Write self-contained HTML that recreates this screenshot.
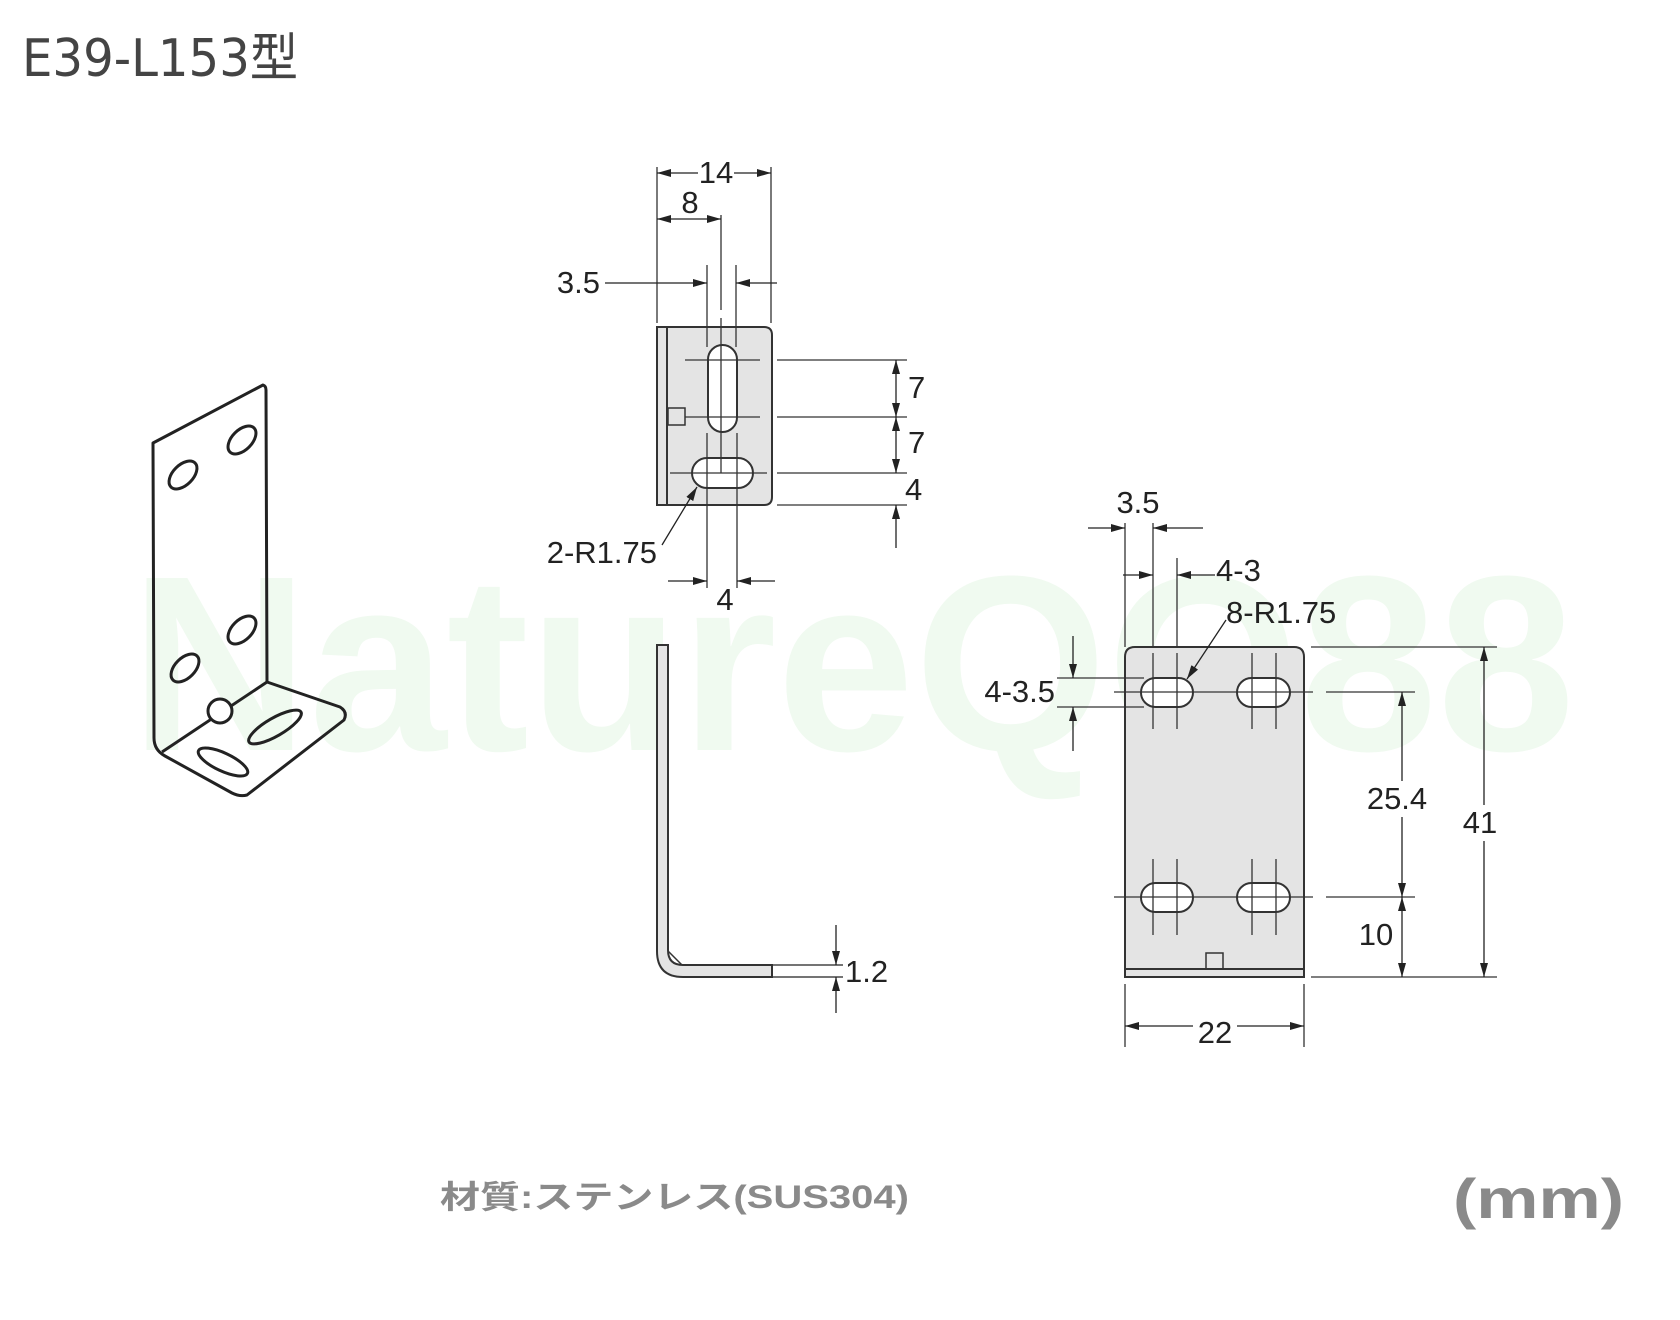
<!DOCTYPE html>
<html><head><meta charset="utf-8"><style>html,body{margin:0;padding:0;background:#fff}svg{display:block}</style></head>
<body>
<svg width="1680" height="1320" viewBox="0 0 1680 1320" xmlns="http://www.w3.org/2000/svg">
<defs>
<marker id="a" viewBox="0 0 14 8" refX="14" refY="4" markerWidth="14" markerHeight="8" markerUnits="userSpaceOnUse" orient="auto-start-reverse"><path d="M0,0 L14,4 L0,8z" fill="#222"/></marker>
</defs>
<rect width="1680" height="1320" fill="#fff"/>
<text x="130" y="750" font-family="Liberation Sans, sans-serif" font-size="250" font-weight="bold" fill="#f0faf0" textLength="1445" lengthAdjust="spacingAndGlyphs">NatureQQ88</text>
<text x="22" y="76" font-family="DejaVu Sans, 'Noto Sans CJK JP', sans-serif" font-size="52" fill="#444" textLength="276" lengthAdjust="spacingAndGlyphs">E39-L153型</text>

<!-- iso -->
<g fill="none" stroke="#222" stroke-width="3" stroke-linejoin="round">
<path d="M153,443 L263,385 Q266,386 266,390 L267,682 L340,707 Q348,712 344,720 L247,795 Q240,797 232,793 L165,756 Q154,750 154,738 Z"/>
<path d="M162,752 L267,682"/>
<ellipse cx="183" cy="475" rx="17" ry="10" transform="rotate(-45 183 475)"/>
<ellipse cx="242" cy="440" rx="17" ry="10" transform="rotate(-45 242 440)"/>
<ellipse cx="185" cy="668" rx="17" ry="10" transform="rotate(-45 185 668)"/>
<ellipse cx="242" cy="630" rx="17" ry="10" transform="rotate(-45 242 630)"/>
<ellipse cx="223" cy="762" rx="27" ry="9" transform="rotate(25 223 762)"/>
<ellipse cx="275" cy="727" rx="30" ry="9" transform="rotate(-30 275 727)"/>
<circle cx="220" cy="711" r="12" fill="#fff"/>
</g>

<g font-family="Liberation Sans, sans-serif" font-size="31" fill="#222">
<!-- middle top view -->
<path d="M657,327 H764 Q772,327 772,335 V497 Q772,505 764,505 H657 Z" fill="#e4e4e4" stroke="#333" stroke-width="2"/>
<line x1="667" y1="327" x2="667" y2="505" stroke="#333" stroke-width="2"/>
<rect x="708" y="345" width="29" height="87" rx="14.5" fill="#fff" stroke="#333" stroke-width="2"/>
<rect x="692" y="458" width="61" height="30" rx="15" fill="#fff" stroke="#333" stroke-width="2"/>
<rect x="668" y="408" width="17" height="17" fill="none" stroke="#333" stroke-width="1.5"/>
<g stroke="#333" stroke-width="1.3" fill="none">
<line x1="685" y1="360" x2="760" y2="360"/><line x1="685" y1="417" x2="760" y2="417"/><line x1="670" y1="473" x2="767" y2="473"/>
<line x1="721" y1="215" x2="721" y2="310"/><line x1="721" y1="318" x2="721" y2="473"/>
<line x1="707" y1="265" x2="707" y2="347"/><line x1="736" y1="265" x2="736" y2="347"/>
<line x1="707" y1="433" x2="707" y2="588"/><line x1="737" y1="433" x2="737" y2="588"/>
<line x1="777" y1="360" x2="907" y2="360"/><line x1="777" y1="417" x2="907" y2="417"/><line x1="777" y1="473" x2="907" y2="473"/><line x1="777" y1="505" x2="907" y2="505"/>
<line x1="657" y1="167" x2="657" y2="323"/><line x1="771" y1="167" x2="771" y2="323"/>
</g>
<g stroke="#222" stroke-width="1.3" fill="none">
<line x1="896" y1="360" x2="896" y2="417" marker-start="url(#a)" marker-end="url(#a)"/>
<line x1="896" y1="417" x2="896" y2="473" marker-start="url(#a)" marker-end="url(#a)"/>
<line x1="896" y1="548" x2="896" y2="505" marker-end="url(#a)"/>
<line x1="657" y1="173" x2="771" y2="173" marker-start="url(#a)" marker-end="url(#a)"/>
<line x1="657" y1="219" x2="721" y2="219" marker-start="url(#a)" marker-end="url(#a)"/>
<line x1="605" y1="283" x2="707" y2="283" marker-end="url(#a)"/>
<line x1="777" y1="283" x2="736" y2="283" marker-end="url(#a)"/>
<line x1="668" y1="581" x2="707" y2="581" marker-end="url(#a)"/>
<line x1="775" y1="581" x2="737" y2="581" marker-end="url(#a)"/>
<line x1="662" y1="545" x2="697" y2="487" marker-end="url(#a)"/>
</g>
<rect x="698" y="158" width="36" height="28" fill="#fff"/>
<text x="716" y="183" text-anchor="middle">14</text>
<text x="690" y="213" text-anchor="middle">8</text>
<text x="600" y="293" text-anchor="end">3.5</text>
<text x="908" y="398">7</text>
<text x="908" y="453">7</text>
<text x="905" y="500">4</text>
<text x="725" y="610" text-anchor="middle">4</text>
<text x="657" y="563" text-anchor="end">2-R1.75</text>

<!-- side view -->
<path d="M657,645 H668 V950 Q668,965 683,965 H772 V977 H683 Q657,977 657,951 Z" fill="#e4e4e4" stroke="#333" stroke-width="2"/>
<path d="M668,951 L682,965" stroke="#333" stroke-width="1.5"/>
<g stroke="#222" stroke-width="1.3">
<line x1="773" y1="965" x2="843" y2="965"/><line x1="773" y1="977" x2="843" y2="977"/>
<line x1="836" y1="925" x2="836" y2="965" marker-end="url(#a)"/>
<line x1="836" y1="1013" x2="836" y2="977" marker-end="url(#a)"/>
</g>
<text x="845" y="982">1.2</text>

<!-- right view -->
<path d="M1125,977 V657 Q1125,647 1135,647 H1294 Q1304,647 1304,657 V977 Z" fill="#e4e4e4" stroke="#333" stroke-width="2"/>
<line x1="1125" y1="969" x2="1304" y2="969" stroke="#333" stroke-width="2"/>
<rect x="1206" y="953" width="17" height="16" fill="none" stroke="#333" stroke-width="1.5"/>
<g fill="#fff" stroke="#333" stroke-width="2">
<rect x="1141" y="678" width="52" height="29" rx="14.5"/><rect x="1237" y="678" width="53" height="29" rx="14.5"/>
<rect x="1141" y="883" width="52" height="29" rx="14.5"/><rect x="1237" y="883" width="53" height="29" rx="14.5"/>
</g>
<g stroke="#333" stroke-width="1.3">
<line x1="1153" y1="653" x2="1153" y2="729"/><line x1="1177" y1="653" x2="1177" y2="729"/>
<line x1="1252" y1="653" x2="1252" y2="729"/><line x1="1276" y1="653" x2="1276" y2="729"/>
<line x1="1153" y1="859" x2="1153" y2="935"/><line x1="1177" y1="859" x2="1177" y2="935"/>
<line x1="1252" y1="859" x2="1252" y2="935"/><line x1="1276" y1="859" x2="1276" y2="935"/>
<line x1="1114" y1="692" x2="1313" y2="692"/><line x1="1114" y1="897" x2="1313" y2="897"/>
<line x1="1125" y1="523" x2="1125" y2="647"/><line x1="1153" y1="523" x2="1153" y2="647"/><line x1="1177" y1="558" x2="1177" y2="647"/>
<line x1="1057" y1="678" x2="1144" y2="678"/><line x1="1057" y1="707" x2="1144" y2="707"/>
<line x1="1311" y1="647" x2="1497" y2="647"/><line x1="1311" y1="977" x2="1497" y2="977"/>
<line x1="1326" y1="692" x2="1415" y2="692"/><line x1="1326" y1="897" x2="1415" y2="897"/>
<line x1="1125" y1="984" x2="1125" y2="1047"/><line x1="1304" y1="984" x2="1304" y2="1047"/>
</g>
<g stroke="#222" stroke-width="1.3">
<line x1="1088" y1="528" x2="1125" y2="528" marker-end="url(#a)"/>
<line x1="1203" y1="528" x2="1153" y2="528" marker-end="url(#a)"/>
<line x1="1123" y1="575" x2="1153" y2="575" marker-end="url(#a)"/>
<line x1="1215" y1="575" x2="1177" y2="575" marker-end="url(#a)"/>
<line x1="1226" y1="620" x2="1187" y2="679" marker-end="url(#a)"/>
<line x1="1073" y1="636" x2="1073" y2="678" marker-end="url(#a)"/>
<line x1="1073" y1="751" x2="1073" y2="707" marker-end="url(#a)"/>
<line x1="1484" y1="647" x2="1484" y2="977" marker-start="url(#a)" marker-end="url(#a)"/>
<line x1="1402" y1="692" x2="1402" y2="897" marker-start="url(#a)" marker-end="url(#a)"/>
<line x1="1402" y1="897" x2="1402" y2="977" marker-start="url(#a)" marker-end="url(#a)"/>
<line x1="1125" y1="1026" x2="1304" y2="1026" marker-start="url(#a)" marker-end="url(#a)"/>
</g>
<rect x="1362" y="781" width="70" height="36" fill="#fff"/>
<rect x="1462" y="805" width="40" height="36" fill="#fff"/>
<rect x="1193" y="1010" width="44" height="32" fill="#fff"/>
<text x="1138" y="513" text-anchor="middle">3.5</text>
<text x="1216" y="581">4-3</text>
<text x="1226" y="623">8-R1.75</text>
<text x="1055" y="702" text-anchor="end">4-3.5</text>
<text x="1397" y="809" text-anchor="middle">25.4</text>
<text x="1480" y="833" text-anchor="middle">41</text>
<text x="1376" y="945" text-anchor="middle">10</text>
<text x="1215" y="1043" text-anchor="middle">22</text>
</g>

<text x="440" y="1208" font-family="Liberation Sans, 'Noto Sans CJK JP', sans-serif" font-size="32" font-weight="bold" fill="#8a8a8a" textLength="469" lengthAdjust="spacingAndGlyphs">材質:ステンレス(SUS304)</text>
<text x="1453" y="1218" font-family="Liberation Sans, sans-serif" font-size="56" font-weight="bold" fill="#8a8a8a" textLength="171" lengthAdjust="spacingAndGlyphs">(mm)</text>
</svg>
</body></html>
